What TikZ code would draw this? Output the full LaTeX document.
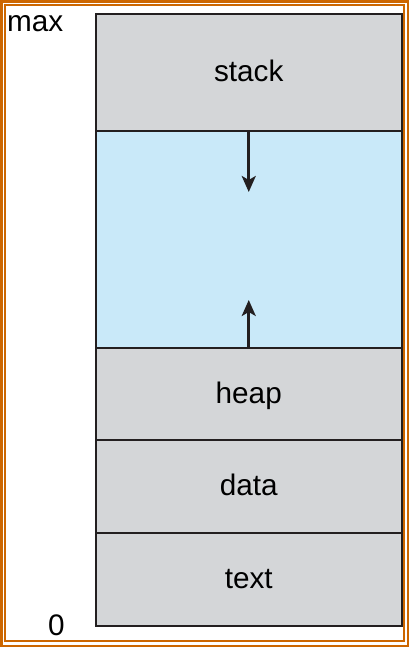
\documentclass[tikz,border=0pt]{standalone}
\usepackage{fontspec}
\setmainfont{Liberation Sans}
\usetikzlibrary{arrows.meta}
\definecolor{seggray}{RGB}{212,214,216}
\definecolor{segblue}{RGB}{201,233,249}
\definecolor{frameorange}{RGB}{204,102,0}
\definecolor{segline}{RGB}{35,31,32}
\begin{document}
\begin{tikzpicture}[x=1bp,y=1bp,
    seg/.style={draw=segline,line width=2bp,minimum width=305.5bp,inner sep=0pt,outer sep=0pt,
      text height=18.4bp,text depth=0pt,font=\fontsize{29.7bp}{34bp}\selectfont},
    lbl/.style={inner sep=0pt,font=\fontsize{29.7bp}{34bp}\selectfont},
    growarrow/.style={draw=segline,line width=2.7bp,-{Stealth[length=16bp,width=14bp,inset=4bp]}}]
  \useasboundingbox (0,0) rectangle (410,648);
  \draw[frameorange,line width=2.2bp] (1.5,2) rectangle (408.3,646.5);
  \draw[frameorange,line width=2bp] (5.25,7) rectangle (404.2,642.75);
  \draw
    (248.75,575.5) node[seg,fill=seggray,minimum height=117bp] (stack){stack}
    (248.75,408.5) node[seg,fill=segblue,minimum height=217bp] (free){}
    (248.75,254) node[seg,fill=seggray,minimum height=92bp] (heap){heap}
    (248.75,161.5) node[seg,fill=seggray,minimum height=93bp] (data){data}
    (248.75,68.75) node[seg,fill=seggray,minimum height=92.5bp] (text){text};
  \draw
    (7,616) node[lbl,anchor=base west] (max){max}
    (48,12) node[lbl,anchor=base west] (zero){0};
  \coordinate (downtip) at (248.75,456);
  \coordinate (uptip) at (248.75,348);
  \begin{scope}[growarrow]
    \draw (stack.south) to (downtip);
    \draw (heap.north) to (uptip);
  \end{scope}
\end{tikzpicture}
\end{document}
